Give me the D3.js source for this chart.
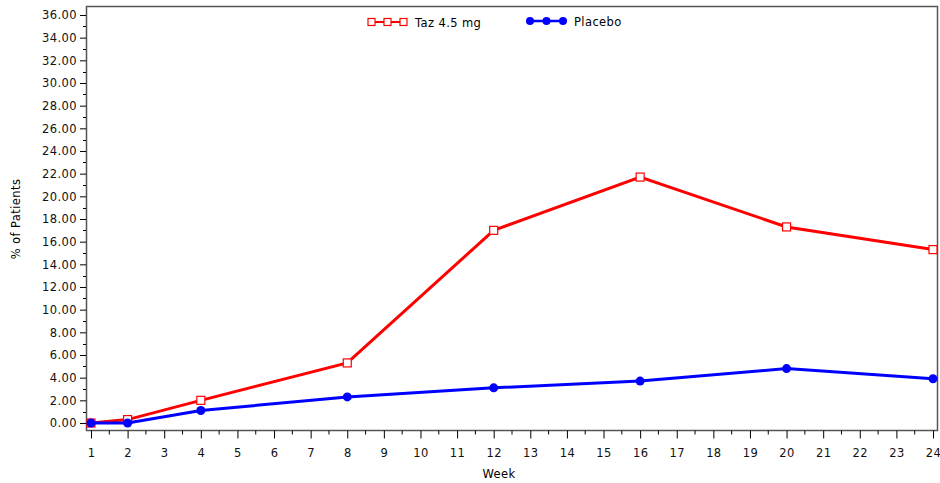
<!DOCTYPE html>
<html>
<head>
<meta charset="utf-8">
<script src="https://cdn.jsdelivr.net/npm/d3@7"></script>
<style>
  body { margin: 0; background: #fff; }
  text { font-family: "DejaVu Sans", sans-serif; letter-spacing: 0.4px; }
</style>
</head>
<body>
<svg id="chart"></svg>
<script>
const width = 940;
const height = 483;

// data
const weeks = [1, 2, 4, 8, 12, 16, 20, 24];
const taz = [0.0, 0.3, 2.0, 5.3, 17.0, 21.7, 17.3, 15.3];
const placebo = [0.0, 0.0, 1.1, 2.3, 3.1, 3.7, 4.8, 3.9];
const seriesNames = ["Taz 4.5 mg", "Placebo"];
const xTicks = d3.range(1, 25);
const yTicks = d3.range(0, 37, 2);

const margin = {left: 86, right: 2, top: 6, bottom: 53};
const fs = "11.5px";

const x = d3.scaleLinear()
  .domain([1, 24])
  .range([91, 933]);

const y = d3.scaleLinear()
  .domain([0, 36])
  .range([423, 15]);

const svg = d3.select("#chart")
  .attr("width", width)
  .attr("height", height);

const plotBottom = height - margin.bottom + 0.5;
const plotRight = width - margin.right;

// frame
svg.append("rect")
  .attr("x", margin.left + 0.5)
  .attr("y", margin.top + 0.5)
  .attr("width", plotRight - margin.left - 1)
  .attr("height", plotBottom - margin.top - 0.5)
  .attr("fill", "none")
  .attr("stroke", "#555")
  .attr("stroke-width", 1.5);

// y axis
const yAxis = d3.axisLeft(y)
  .tickValues(yTicks)
  .tickFormat(d3.format(".2f"))
  .tickSize(6)
  .tickPadding(3);

const gy = svg.append("g")
  .attr("transform", `translate(${margin.left},0)`)
  .call(yAxis);
gy.select(".domain").remove();
gy.selectAll("text").style("font-size", fs).attr("fill", "#111");

// minor y ticks
svg.append("g")
  .selectAll("line")
  .data(d3.range(1, 36, 2))
  .join("line")
  .attr("x1", margin.left - 3)
  .attr("x2", margin.left)
  .attr("y1", d => Math.round(y(d)) + 0.5)
  .attr("y2", d => Math.round(y(d)) + 0.5)
  .attr("stroke", "#000");

// x axis
const xAxis = d3.axisBottom(x)
  .tickValues(xTicks)
  .tickFormat(d3.format("d"))
  .tickSize(8)
  .tickPadding(10);

const gx = svg.append("g")
  .attr("transform", `translate(0,${plotBottom})`)
  .call(xAxis);
gx.select(".domain").remove();
gx.selectAll("text").style("font-size", fs).attr("fill", "#111");

// minor x ticks
svg.append("g")
  .selectAll("line")
  .data(d3.range(1.5, 24, 1))
  .join("line")
  .attr("x1", d => x(d))
  .attr("x2", d => x(d))
  .attr("y1", plotBottom)
  .attr("y2", plotBottom + 4)
  .attr("stroke", "#000");

// axis titles
svg.append("text")
  .attr("x", 499)
  .attr("y", 478)
  .attr("text-anchor", "middle")
  .style("font-size", fs)
  .text("Week");

svg.append("text")
  .attr("transform", "translate(20,219) rotate(-90)")
  .attr("text-anchor", "middle")
  .style("font-size", fs)
  .text("% of Patients");

const line = d3.line()
  .x((d, i) => x(weeks[i]))
  .y(d => y(d));

// Taz series
svg.append("path")
  .datum(taz)
  .attr("d", line)
  .attr("fill", "none")
  .attr("stroke", "#ff0000")
  .attr("stroke-width", 3);

svg.append("g")
  .selectAll("rect")
  .data(taz)
  .join("rect")
  .attr("x", (d, i) => x(weeks[i]) - 4)
  .attr("y", d => y(d) - 4)
  .attr("width", 8)
  .attr("height", 8)
  .attr("fill", "#fff")
  .attr("stroke", "#ff0000")
  .attr("stroke-width", 1.2);

// Placebo series
svg.append("path")
  .datum(placebo)
  .attr("d", line)
  .attr("fill", "none")
  .attr("stroke", "#0000ff")
  .attr("stroke-width", 3);

svg.append("g")
  .selectAll("circle")
  .data(placebo)
  .join("circle")
  .attr("cx", (d, i) => x(weeks[i]))
  .attr("cy", d => y(d))
  .attr("r", 4.5)
  .attr("fill", "#0000ff");

// legend
const legend = svg.append("g");

const leg1 = legend.append("g").attr("transform", "translate(371,22)");
leg1.append("line").attr("x1", 0).attr("x2", 33)
  .attr("stroke", "#ff0000").attr("stroke-width", 2);
leg1.selectAll("rect")
  .data([0, 1, 2])
  .join("rect")
  .attr("x", d => d * 16 - 3)
  .attr("y", -3.5)
  .attr("width", 7)
  .attr("height", 7)
  .attr("fill", "#fff")
  .attr("stroke", "#ff0000")
  .attr("stroke-width", 1.2);
leg1.append("text").attr("x", 44).attr("y", 5)
  .style("font-size", fs).text(seriesNames[0]);

const leg2 = legend.append("g").attr("transform", "translate(530,21)");
leg2.append("line").attr("x1", 0).attr("x2", 33)
  .attr("stroke", "#0000ff").attr("stroke-width", 2.5);
leg2.selectAll("circle")
  .data([0, 1, 2])
  .join("circle")
  .attr("cx", d => d * 16.5)
  .attr("cy", 0)
  .attr("r", 4)
  .attr("fill", "#0000ff");
leg2.append("text").attr("x", 44).attr("y", 5)
  .style("font-size", fs).text(seriesNames[1]);
</script>
</body>
</html>
